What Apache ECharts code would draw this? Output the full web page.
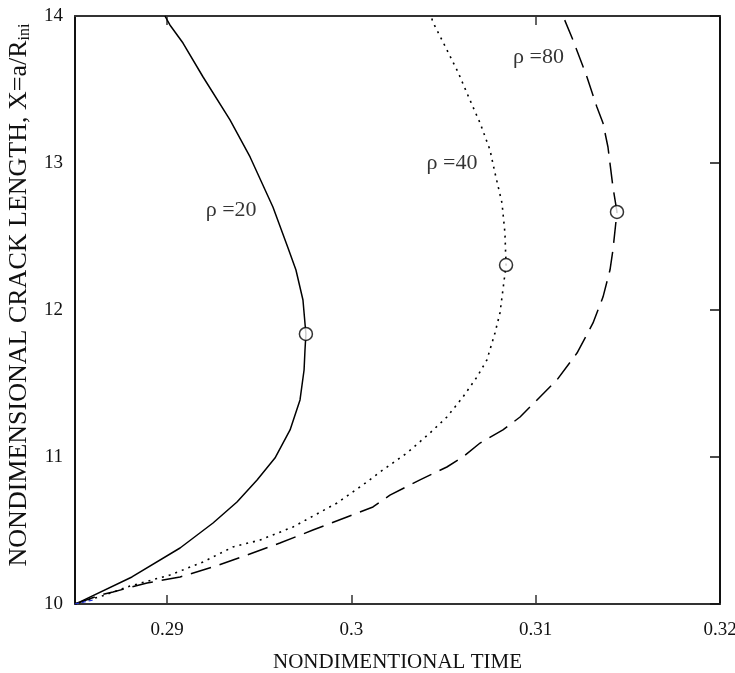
<!DOCTYPE html>
<html>
<head>
<meta charset="utf-8">
<script src="https://cdn.jsdelivr.net/npm/echarts@6/dist/echarts.min.js"></script>
<style>html,body{margin:0;padding:0;background:#fff}#c{width:735px;height:673px}</style>
</head>
<body>
<div id="c"></div>
<script>
// ---- data (time, crack length) ----
const rho20 = [[0.285,10],[0.28527,10.014],[0.28809,10.184],[0.29070,10.381],[0.29249,10.551],[0.29379,10.694],[0.29488,10.844],[0.29585,10.993],[0.29667,11.184],[0.29721,11.388],[0.29743,11.592],[0.29748,11.728],[0.29753,11.837],[0.29737,12.068],[0.29699,12.272],[0.29656,12.422],[0.29574,12.701],[0.29450,13.041],[0.29341,13.293],[0.29195,13.585],[0.29086,13.816],[0.29015,13.939],[0.28988,14.0]];
const rho40 = [[0.285,10],[0.28663,10.061],[0.28798,10.122],[0.29015,10.197],[0.29195,10.286],[0.29357,10.388],[0.29504,10.435],[0.29683,10.524],[0.29922,10.687],[0.30084,10.830],[0.30155,10.898],[0.30301,11.027],[0.30426,11.163],[0.30518,11.272],[0.30605,11.408],[0.30681,11.544],[0.30735,11.660],[0.30779,11.844],[0.30806,11.980],[0.30822,12.136],[0.30839,12.306],[0.30833,12.524],[0.30817,12.728],[0.30779,12.932],[0.30752,13.088],[0.30698,13.272],[0.30643,13.429],[0.30578,13.619],[0.30497,13.823],[0.30442,13.959],[0.30432,14.0]];
const rho80 = [[0.285,10],[0.28636,10.061],[0.28706,10.082],[0.28891,10.143],[0.29070,10.184],[0.29249,10.252],[0.29433,10.333],[0.29612,10.415],[0.29791,10.503],[0.29976,10.592],[0.30117,10.660],[0.30209,10.741],[0.30372,10.844],[0.30518,10.932],[0.30605,11.000],[0.30698,11.095],[0.30822,11.184],[0.30915,11.272],[0.31007,11.388],[0.31115,11.524],[0.31224,11.707],[0.31311,11.912],[0.31365,12.088],[0.31403,12.272],[0.31419,12.408],[0.31441,12.667],[0.31419,12.837],[0.31392,13.109],[0.31365,13.272],[0.31332,13.381],[0.31278,13.585],[0.31202,13.837],[0.31148,14.0]];
const blueBit = [[0.285,10],[0.2861,10.03]];
const markers = [[0.29753,11.837],[0.30839,12.306],[0.31441,12.667]];
const curveLabels = [
  {name:'ρ =20', value:[0.29347,12.68]},
  {name:'ρ =40', value:[0.30546,13.0]},
  {name:'ρ =80', value:[0.31015,13.72]}
];
const xTicks = [0.29, 0.30, 0.31, 0.32];
const xTickText = ['0.29','0.3','0.31','0.32'];
const topTicks = [0.29, 0.31];
const xTitle = 'NONDIMENTIONAL TIME';
const yTitle = 'NONDIMENSIONAL CRACK LENGTH, X=a/R';
const yTitleSub = 'ini';

const FONT = 'Liberation Serif';
const chart = echarts.init(document.getElementById('c'), null, {renderer:'canvas'});
chart.setOption({
  animation:false,
  backgroundColor:'#fff',
  grid:{left:75, right:15, top:16, bottom:69, containLabel:false, outerBoundsMode:'none'},
  xAxis:[{
    type:'value', position:'bottom', min:0.285, max:0.32,
    axisLine:{show:true, onZero:false, lineStyle:{color:'#333', width:2}},
    axisTick:{show:true, inside:true, length:9, customValues:xTicks.slice(0,3), lineStyle:{color:'#333', width:1.5}},
    axisLabel:{show:true, customValues:xTicks, margin:17, fontFamily:FONT, fontSize:19, color:'#111',
      formatter:function(v){ const i = xTicks.findIndex(t=>Math.abs(t-v)<1e-9); return i>=0?xTickText[i]:''; }},
    splitLine:{show:false},
    name:xTitle, nameLocation:'middle', nameGap:48,
    nameTextStyle:{fontFamily:FONT, fontSize:21, color:'#111'}
  },{
    type:'value', position:'top', min:0.285, max:0.32,
    axisLine:{show:true, onZero:false, lineStyle:{color:'#333', width:2}},
    axisTick:{show:true, inside:true, length:9, customValues:topTicks, lineStyle:{color:'#333', width:1.5}},
    axisLabel:{show:false}, splitLine:{show:false}
  }],
  yAxis:[{
    type:'value', position:'left', min:10, max:14, interval:1,
    axisLine:{show:true, onZero:false, lineStyle:{color:'#111', width:2}},
    axisTick:{show:false},
    axisLabel:{show:true, margin:12, fontFamily:FONT, fontSize:19, color:'#111'},
    splitLine:{show:false},
    name:'{a|'+yTitle+'}{s|'+yTitleSub+'}', nameLocation:'middle', nameGap:39, nameRotate:90,
    nameTextStyle:{fontFamily:FONT, fontSize:26, color:'#111', padding:[0,0,0,30],
      rich:{a:{fontFamily:FONT, fontSize:26, color:'#111'}, s:{fontFamily:FONT, fontSize:16, color:'#111', padding:[11,0,0,0]}}}
  },{
    type:'value', position:'right', min:10, max:14, interval:1,
    axisLine:{show:true, onZero:false, lineStyle:{color:'#111', width:2}},
    axisTick:{show:true, inside:true, length:10, lineStyle:{color:'#111', width:1.5}},
    axisLabel:{show:false}, splitLine:{show:false}
  }],
  series:[
    {type:'line', name:'rho20', data:rho20, showSymbol:false, symbol:'none', smooth:false,
     lineStyle:{color:'#000', width:1.5, type:'solid'}, z:3},
    {type:'line', name:'rho40', data:rho40, showSymbol:false, symbol:'none',
     lineStyle:{color:'#000', width:1.6, type:[2,5]}, z:3},
    {type:'line', name:'rho80', data:rho80, showSymbol:false, symbol:'none',
     lineStyle:{color:'#000', width:1.5, type:[21,9]}, z:3},
    {type:'line', name:'blue', data:blueBit, showSymbol:false, symbol:'none',
     lineStyle:{color:'#2233dd', width:1.2, type:[4,3]}, z:4},
    {type:'scatter', name:'peaks', data:markers, symbol:'circle', symbolSize:13,
     itemStyle:{color:'#fff', borderColor:'#000', borderWidth:1.5}, z:5},
    {type:'scatter', name:'labels', data:curveLabels, symbolSize:0, z:6,
     label:{show:true, position:'inside', formatter:'{b}', fontFamily:FONT, fontSize:22, color:'#000'}}
  ]
});
</script>
</body>
</html>
